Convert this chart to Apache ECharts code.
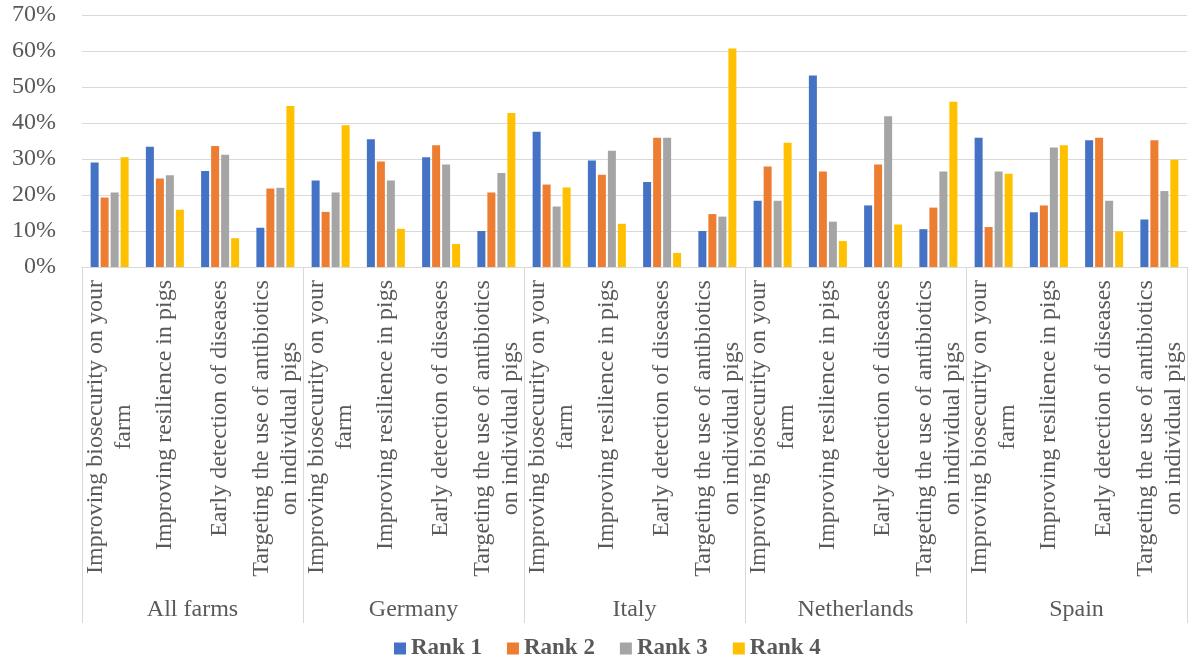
<!DOCTYPE html>
<html>
<head>
<meta charset="utf-8">
<script src="https://cdn.jsdelivr.net/npm/echarts@6/dist/echarts.min.js"></script>
<style>
html,body{margin:0;padding:0;background:#fff;}
#chart{width:1188px;height:661px;}
</style>
</head>
<body>
<div id="chart"></div>
<script>
var groups = ['All farms', 'Germany', 'Italy', 'Netherlands', 'Spain'];
var items = ['Improving biosecurity on your\nfarm', 'Improving resilience in pigs', 'Early detection of diseases', 'Targeting the use of antibiotics\non individual pigs'];
var seriesNames = ['Rank 1', 'Rank 2', 'Rank 3', 'Rank 4'];
var rank1 = [29.0, 33.4, 26.7, 10.9, 24.0, 35.5, 30.5, 10.0, 37.6, 29.6, 23.6, 10.0, 18.4, 53.2, 17.1, 10.5, 35.9, 15.2, 35.2, 13.2];
var rank2 = [19.3, 24.6, 33.6, 21.8, 15.3, 29.3, 33.8, 20.7, 22.9, 25.6, 35.9, 14.7, 27.9, 26.5, 28.5, 16.5, 11.1, 17.1, 35.9, 35.2];
var rank3 = [20.7, 25.5, 31.2, 22.0, 20.7, 24.0, 28.5, 26.1, 16.8, 32.3, 35.9, 14.0, 18.4, 12.6, 41.9, 26.5, 26.5, 33.2, 18.4, 21.1];
var rank4 = [30.5, 15.9, 8.0, 44.7, 39.4, 10.6, 6.4, 42.8, 22.1, 12.0, 3.9, 60.7, 34.5, 7.2, 11.8, 45.9, 25.9, 33.8, 9.9, 29.8];
var yTicks = {min: 0, max: 70, interval: 10};
var colors = ['#4472C4', '#ED7D31', '#A5A5A5', '#FFC000'];

var FONT = "'Liberation Serif', 'Times New Roman', serif";
var FS = 24;

// build 20 categories
var cats = [];
groups.forEach(function (g, gi) {
  items.forEach(function (it, ii) { cats.push({value: gi + '|' + ii}); });
});

// measure first-line widths for centred multi-line labels
var cv = document.createElement('canvas').getContext('2d');
cv.font = FS + 'px ' + FONT;
var rich = {};
items.forEach(function (it, ii) {
  var lines = it.split('\n');
  var w = Math.ceil(cv.measureText(lines[0]).width);
  rich['l' + ii] = {width: w, align: 'center', fontSize: FS, fontFamily: FONT, color: '#595959', lineHeight: 28};
});

var chart = echarts.init(document.getElementById('chart'));
var allData = [rank1, rank2, rank3, rank4];
chart.setOption({
  animation: false,
  color: colors,
  grid: {left: 82, right: 1, top: 15, bottom: 394, containLabel: false},
  legend: {
    top: 637, left: 394, padding: 0,
    itemWidth: 12, itemHeight: 12, itemGap: 25,
    icon: 'rect',
    textStyle: {fontFamily: FONT, fontSize: 23, fontWeight: 'bold', color: '#595959'},
    data: seriesNames
  },
  xAxis: [{
    type: 'category',
    data: cats,
    axisLine: {show: true, lineStyle: {color: '#d9d9d9', width: 1}},
    axisTick: {show: false},
    axisLabel: {
      interval: 0, rotate: 90, margin: 13,
      formatter: function (v) {
        var ii = +v.split('|')[1];
        return items[ii].split('\n').map(function (l) { return '{l' + ii + '|' + l + '}'; }).join('\n');
      },
      rich: rich
    }
  }, {
    type: 'category',
    data: groups,
    position: 'bottom',
    axisLine: {show: false},
    axisTick: {show: true, length: 356, interval: 0, lineStyle: {color: '#d9d9d9', width: 1}},
    axisLabel: {interval: 0, margin: 331, fontFamily: FONT, fontSize: FS, color: '#595959'}
  }],
  yAxis: {
    type: 'value',
    min: yTicks.min, max: yTicks.max, interval: yTicks.interval,
    axisLine: {show: false}, axisTick: {show: false},
    axisLabel: {formatter: '{value}%', fontFamily: FONT, fontSize: FS, color: '#595959', margin: 26},
    splitLine: {lineStyle: {color: '#d9d9d9', width: 1}}
  },
  series: seriesNames.map(function (n, i) {
    return {
      name: n, type: 'bar', xAxisIndex: 0,
      data: allData[i],
      barWidth: 8, barGap: '25%'
    };
  })
});
</script>
</body>
</html>
